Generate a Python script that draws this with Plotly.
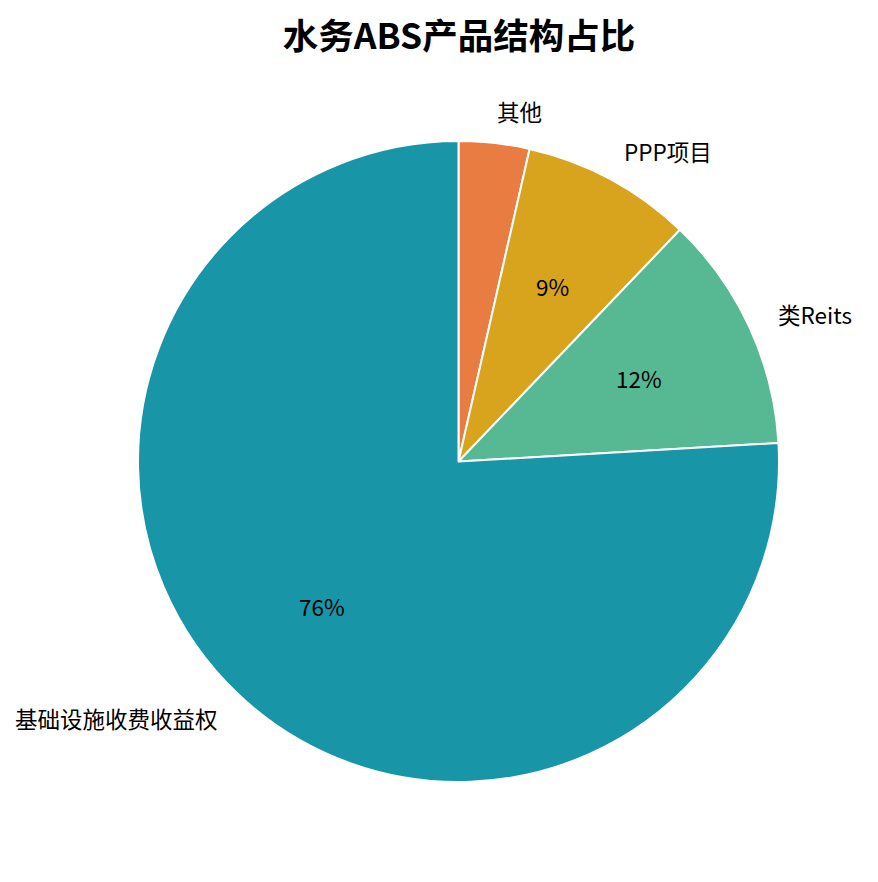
import math
import plotly.graph_objects as go

labels = ["其他", "PPP项目", "类Reits", "基础设施收费收益权"]
values = [3.56, 8.58, 11.94, 75.92]
colors = ["#E97C40", "#D8A31D", "#57B894", "#1896A8"]
title = "水务ABS产品结构占比"

W, H = 878, 882
OFF = 8  # page body margin compensation
cx, cy, r = 458.5 - OFF, 461.5 - OFF, 320.5  # pie center / radius in pixels
PAD = 3  # annotation inner padding compensation

fig = go.Figure(go.Pie(
    labels=labels, values=values, sort=False, direction="clockwise", rotation=0,
    marker=dict(colors=colors, line=dict(color="white", width=2)),
    textinfo="none", hoverinfo="label+percent", showlegend=False,
    domain=dict(x=[(cx - r) / W, (cx + r) / W], y=[1 - (cy + r) / H, 1 - (cy - r) / H]),
))

font_family = "Noto Sans CJK SC"
fs = 22.5
total = sum(values)
cum = 0.0
annotations = []
for lab, v in zip(labels, values):
    frac = v / total
    theta = math.radians(90 - 360 * (cum + frac / 2))
    cum += frac
    right = math.cos(theta) > 0
    lx = cx + 1.1 * r * math.cos(theta) + (-PAD if right else PAD)
    ly = cy - 1.1 * r * math.sin(theta)
    annotations.append(dict(
        x=lx / W, y=1 - ly / H, xref="paper", yref="paper", text=lab, showarrow=False,
        xanchor="left" if right else "right", yanchor="middle",
        font=dict(family=font_family, size=fs, color="black")))
    pct = 100 * frac
    if pct >= 5:
        px = cx + 0.62 * r * math.cos(theta)
        py = cy - 0.62 * r * math.sin(theta)
        annotations.append(dict(
            x=px / W, y=1 - py / H, xref="paper", yref="paper", text=f"{pct:.0f}%",
            showarrow=False, xanchor="center", yanchor="middle",
            font=dict(family=font_family, size=fs, color="black")))

fig.update_layout(
    width=W, height=H, margin=dict(l=0, r=0, t=0, b=0),
    paper_bgcolor="white", plot_bgcolor="white",
    title=dict(text="<b>" + title + "</b>", x=(459 - OFF) / W, xanchor="center",
               y=1 - (37 - OFF) / H, yanchor="middle",
               font=dict(family=font_family, size=35.5, color="black")),
    annotations=annotations,
)
fig.write_html("out.html")
